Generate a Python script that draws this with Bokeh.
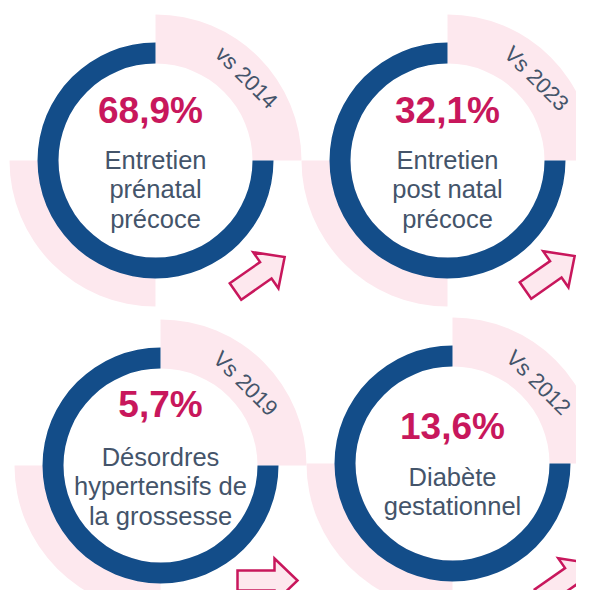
import math
from bokeh.plotting import figure
from bokeh.models import Range1d
from bokeh.embed import file_html
from bokeh.resources import INLINE
from bokeh.core.properties import value

# ---------------- data ----------------
values = [68.9, 32.1, 5.7, 13.6]
labels = [
    ["Entretien", "prénatal", "précoce"],
    ["Entretien", "post natal", "précoce"],
    ["Désordres", "hypertensifs de", "la grossesse"],
    ["Diabète", "gestationnel"],
]
ref_years = ["vs 2014", "Vs 2023", "Vs 2019", "Vs 2012"]
trends = ["up", "up", "flat", "up"]

# ---------------- layout (page pixel positions) ----------------
centers = [(155, 160), (447, 160), (160, 465), (452, 463)]
pct_dx = [-5, 0, 0, 0]
pct_dy = [-50, -50, -61, -37]
label_dy = [-1, -1, -9, 13]
vs_off = [(91, -83), (89, -82), (85, -82), (86, -81)]
arrow_off = [(80, 131), (78, 130), (77, 115), (88, 134)]
trend_angle = {"up": 35.0, "flat": 0.0}

R_IN, R_OUT, R_PINK = 97, 118, 146
LINE_H = 29.5

BLUE = "#134d89"
PINK = "#fde8ee"
CRIMSON = "#c8175c"
GRAY = "#44546a"
FONT = "Liberation Sans"

W, H = 576, 590


def Y(y_img):
    return 606 - y_img


p = figure(width=W, height=H, output_backend="svg", toolbar_location=None,
           x_range=Range1d(0, W), y_range=Range1d(606 - H, 606),
           x_axis_location=None, y_axis_location=None, min_border=0)
p.grid.visible = False
p.outline_line_color = None
p.background_fill_color = "white"
p.border_fill_color = "white"

for i, (cx, cy) in enumerate(centers):
    x0, y0 = cx, Y(cy)
    # pale pink quarter bands
    p.annular_wedge(x=[x0], y=[y0], inner_radius=R_IN, outer_radius=R_PINK,
                    start_angle=0, end_angle=math.pi / 2,
                    fill_color=PINK, line_color=None)
    p.annular_wedge(x=[x0], y=[y0], inner_radius=R_IN, outer_radius=R_PINK,
                    start_angle=math.pi, end_angle=1.5 * math.pi,
                    fill_color=PINK, line_color=None)
    # blue ring (3/4)
    p.annular_wedge(x=[x0], y=[y0], inner_radius=R_IN, outer_radius=R_OUT,
                    start_angle=math.pi / 2, end_angle=2 * math.pi,
                    fill_color=BLUE, line_color=None)

    # percentage
    pct = f"{values[i]:.1f}".replace(".", ",") + "%"
    p.text(x=[x0 + pct_dx[i]], y=[Y(cy + pct_dy[i])], text=[pct], text_font=value(FONT),
           text_font_style="bold", text_font_size="37px", text_color=CRIMSON,
           text_align="center", text_baseline="alphabetic")

    # label lines
    for j, line in enumerate(labels[i]):
        p.text(x=[x0], y=[Y(cy + label_dy[i] + j * LINE_H)], text=[line],
               text_font=value(FONT), text_font_size="25.5px", text_color=GRAY,
               text_align="center", text_baseline="alphabetic")

    # rotated reference year
    p.text(x=[x0 + vs_off[i][0]], y=[Y(cy + vs_off[i][1])], text=[ref_years[i]],
           angle=-math.pi / 4, text_font=value(FONT), text_font_size="22px",
           text_color=GRAY, text_align="center", text_baseline="middle")

    # trend arrow
    L, w, h, hl = 60, 10, 22, 23
    local = [(0, w), (L - hl, w), (L - hl, h), (L, 0), (L - hl, -h), (L - hl, -w), (0, -w)]
    th = math.radians(trend_angle[trends[i]])
    tx, ty = cx + arrow_off[i][0], Y(cy + arrow_off[i][1])
    xs = [tx + u * math.cos(th) - v * math.sin(th) for u, v in local]
    ys = [ty + u * math.sin(th) + v * math.cos(th) for u, v in local]
    p.patch(xs, ys, fill_color=PINK, line_color=CRIMSON, line_width=2.5,
            line_join="miter")

open("out.html", "w").write(file_html(p, INLINE))
